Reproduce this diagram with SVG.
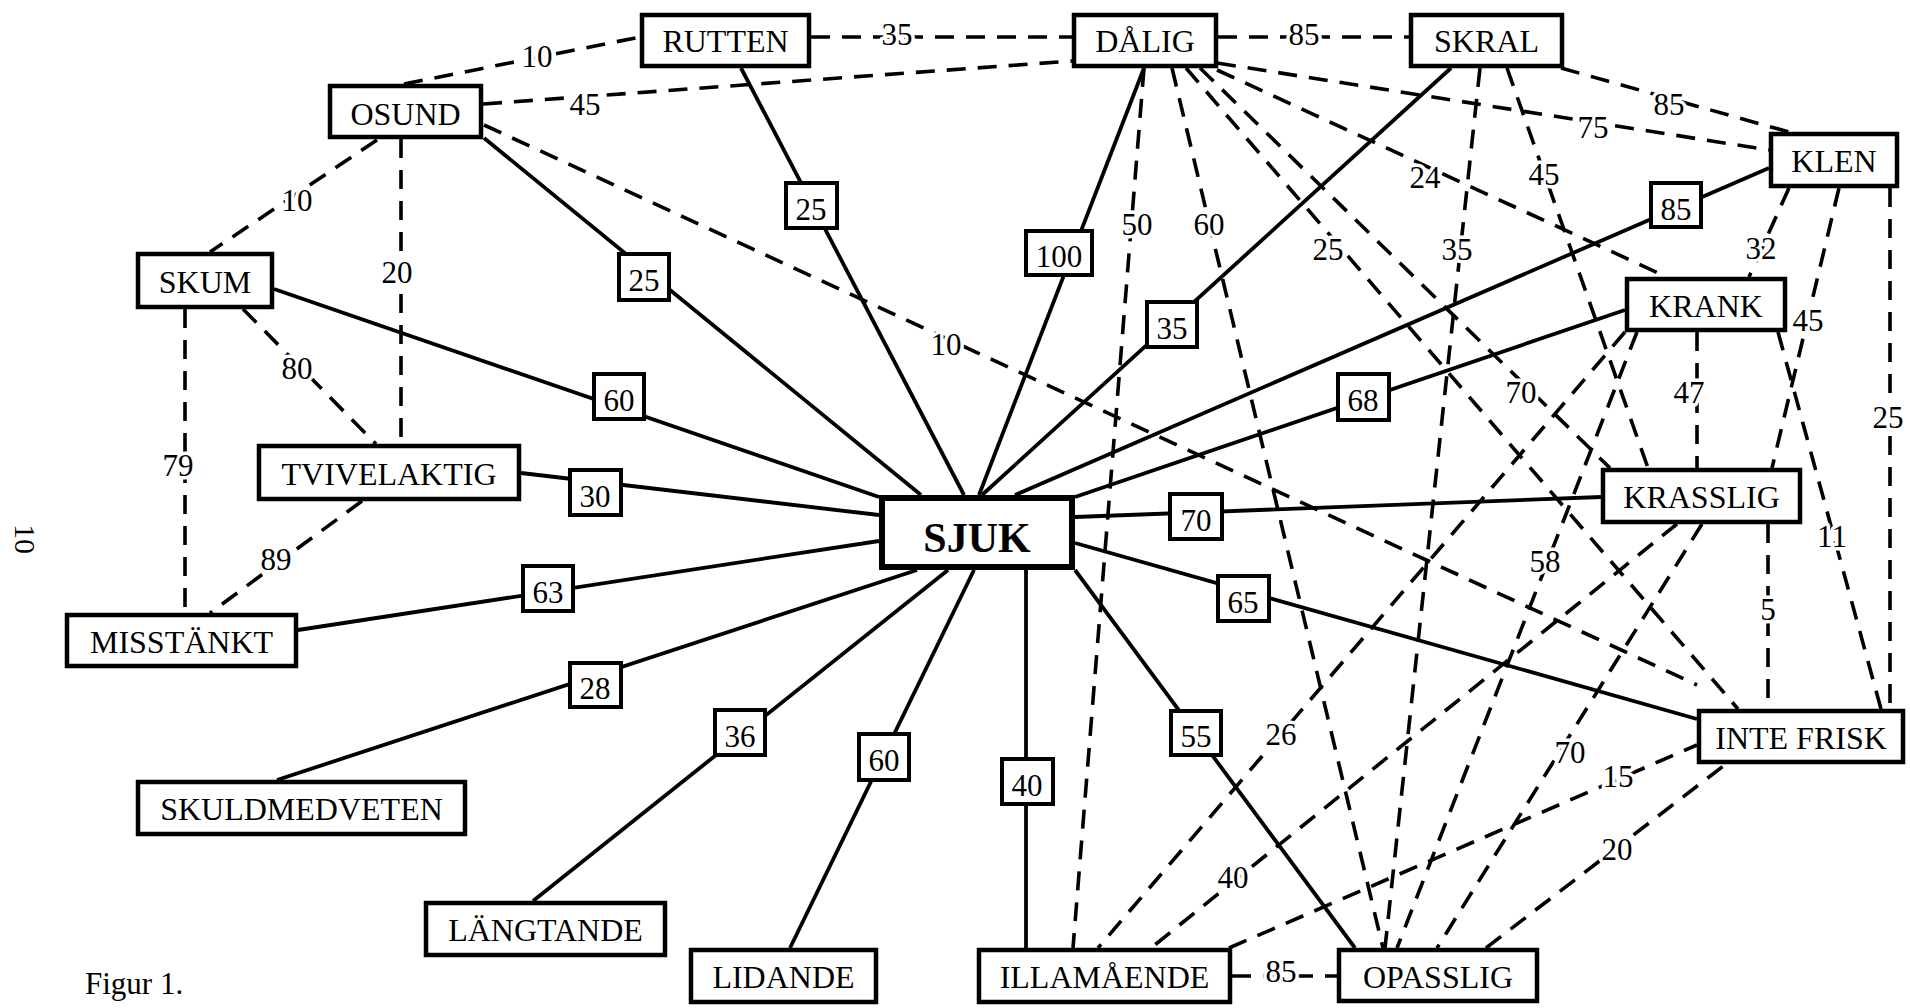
<svg xmlns="http://www.w3.org/2000/svg" width="1910" height="1008" viewBox="0 0 1910 1008">
<style>
text{font-family:"Liberation Serif","Times New Roman",serif;fill:#000}
.node rect{fill:#fff;stroke:#000;stroke-width:4.5}
.node text{font-size:32px;text-anchor:middle}
.s{stroke:#000;stroke-width:3.8;fill:none}
.d{stroke:#000;stroke-width:3.6;fill:none;stroke-dasharray:19 12}
.lb rect{fill:#fff;stroke:#000;stroke-width:4}
.lb text{font-size:31px;text-anchor:middle}
.dl{font-size:31px;text-anchor:middle;stroke:#fff;stroke-width:7;paint-order:stroke;stroke-linejoin:round}
</style>
<rect width="1910" height="1008" fill="#fff"/>
<g id="connectors">
<line class="d" x1="404" y1="84" x2="640" y2="37"/>
<line class="d" x1="811" y1="37" x2="1072" y2="37"/>
<line class="d" x1="1218" y1="37" x2="1409" y2="37"/>
<line class="d" x1="483" y1="104" x2="1072" y2="61"/>
<line class="d" x1="377" y1="140" x2="210" y2="252"/>
<line class="d" x1="401" y1="139" x2="401" y2="444"/>
<line class="d" x1="243" y1="309" x2="376" y2="444"/>
<line class="d" x1="185" y1="309" x2="185" y2="613"/>
<line class="d" x1="362" y1="501" x2="210" y2="613"/>
<line class="d" x1="484" y1="125" x2="1697" y2="685"/>
<line class="d" x1="1217" y1="63" x2="1769" y2="150"/>
<line class="d" x1="1561" y1="68" x2="1789" y2="132"/>
<line class="d" x1="1217" y1="70" x2="1667" y2="277"/>
<line class="d" x1="1507" y1="68" x2="1648" y2="468"/>
<line class="d" x1="1144" y1="68" x2="1073" y2="948"/>
<line class="d" x1="1172" y1="68" x2="1383" y2="948"/>
<line class="d" x1="1186" y1="68" x2="1738" y2="709"/>
<line class="d" x1="1200" y1="68" x2="1610" y2="468"/>
<line class="d" x1="1480" y1="68" x2="1385" y2="948"/>
<line class="d" x1="1789" y1="188" x2="1749" y2="277"/>
<line class="d" x1="1839" y1="188" x2="1772" y2="468"/>
<line class="d" x1="1890" y1="188" x2="1890" y2="709"/>
<line class="d" x1="1697" y1="332" x2="1697" y2="468"/>
<line class="d" x1="1778" y1="332" x2="1881" y2="709"/>
<line class="d" x1="1637" y1="332" x2="1397" y2="948"/>
<line class="d" x1="1625" y1="332" x2="1098" y2="948"/>
<line class="d" x1="1768" y1="524" x2="1768" y2="709"/>
<line class="d" x1="1677" y1="524" x2="1151" y2="948"/>
<line class="d" x1="1702" y1="524" x2="1437" y2="948"/>
<line class="d" x1="1229" y1="948" x2="1697" y2="745"/>
<line class="d" x1="1486" y1="948" x2="1726" y2="764"/>
<line class="d" x1="1232" y1="976" x2="1337" y2="976"/>
<line class="s" x1="484" y1="138" x2="921" y2="495"/>
<line class="s" x1="741" y1="68" x2="964" y2="495"/>
<line class="s" x1="1144" y1="68" x2="979" y2="495"/>
<line class="s" x1="1451" y1="68" x2="982" y2="495"/>
<line class="s" x1="1769" y1="168" x2="1015" y2="495"/>
<line class="s" x1="1625" y1="310" x2="1075" y2="497"/>
<line class="s" x1="1601" y1="497" x2="1075" y2="517"/>
<line class="s" x1="1697" y1="719" x2="1075" y2="543"/>
<line class="s" x1="1355" y1="948" x2="1075" y2="570"/>
<line class="s" x1="1026" y1="570" x2="1026" y2="948"/>
<line class="s" x1="790" y1="948" x2="974" y2="570"/>
<line class="s" x1="533" y1="901" x2="948" y2="570"/>
<line class="s" x1="277" y1="780" x2="917" y2="570"/>
<line class="s" x1="298" y1="630" x2="879" y2="541"/>
<line class="s" x1="521" y1="473" x2="879" y2="515"/>
<line class="s" x1="274" y1="289" x2="879" y2="497"/>
<text class="dl" x="537" y="67">10</text>
<text class="dl" x="897" y="45">35</text>
<text class="dl" x="1304" y="45">85</text>
<text class="dl" x="585" y="115">45</text>
<text class="dl" x="297" y="211">10</text>
<text class="dl" x="397" y="283">20</text>
<text class="dl" x="297" y="379">80</text>
<text class="dl" x="178" y="476">79</text>
<text class="dl" x="276" y="570">89</text>
<text class="dl" x="946" y="355">10</text>
<text class="dl" x="1137" y="235">50</text>
<text class="dl" x="1209" y="235">60</text>
<text class="dl" x="1328" y="260">25</text>
<text class="dl" x="1457" y="260">35</text>
<text class="dl" x="1425" y="188">24</text>
<text class="dl" x="1544" y="185">45</text>
<text class="dl" x="1593" y="138">75</text>
<text class="dl" x="1669" y="115">85</text>
<text class="dl" x="1761" y="259">32</text>
<text class="dl" x="1808" y="331">45</text>
<text class="dl" x="1689" y="403">47</text>
<text class="dl" x="1521" y="403">70</text>
<text class="dl" x="1888" y="428">25</text>
<text class="dl" x="1545" y="572">58</text>
<text class="dl" x="1832" y="547">11</text>
<text class="dl" x="1768" y="620">5</text>
<text class="dl" x="1281" y="745">26</text>
<text class="dl" x="1570" y="763">70</text>
<text class="dl" x="1618" y="787">15</text>
<text class="dl" x="1233" y="888">40</text>
<text class="dl" x="1617" y="860">20</text>
<text class="dl" x="1281" y="982">85</text>
<g class="lb">
<rect x="619" y="254" width="50" height="46"/><text x="644" y="291">25</text>
<rect x="786" y="183" width="51" height="45"/><text x="811" y="220">25</text>
<rect x="1026" y="231" width="66" height="44"/><text x="1059" y="267">100</text>
<rect x="1147" y="302" width="50" height="45"/><text x="1172" y="339">35</text>
<rect x="1651" y="183" width="50" height="44"/><text x="1676" y="220">85</text>
<rect x="1338" y="374" width="51" height="46"/><text x="1363" y="411">68</text>
<rect x="1170" y="494" width="52" height="45"/><text x="1196" y="531">70</text>
<rect x="1218" y="576" width="51" height="45"/><text x="1243" y="613">65</text>
<rect x="1171" y="711" width="50" height="44"/><text x="1196" y="747">55</text>
<rect x="1002" y="759" width="51" height="45"/><text x="1027" y="796">40</text>
<rect x="859" y="734" width="50" height="46"/><text x="884" y="771">60</text>
<rect x="715" y="710" width="50" height="45"/><text x="740" y="747">36</text>
<rect x="570" y="663" width="51" height="44"/><text x="595" y="699">28</text>
<rect x="523" y="566" width="50" height="45"/><text x="548" y="603">63</text>
<rect x="570" y="470" width="51" height="45"/><text x="595" y="507">30</text>
<rect x="594" y="374" width="50" height="45"/><text x="619" y="411">60</text>
</g>
</g>
<g id="n-rutten" class="node"><rect x="642" y="15" width="167" height="51"/><text x="725.5" y="52">RUTTEN</text></g>
<g id="n-dalig" class="node"><rect x="1074" y="15" width="142" height="51"/><text x="1145" y="52">DÅLIG</text></g>
<g id="n-skral" class="node"><rect x="1411" y="15" width="151" height="51"/><text x="1486.5" y="52">SKRAL</text></g>
<g id="n-osund" class="node"><rect x="330" y="86" width="151" height="51"/><text x="405.5" y="125">OSUND</text></g>
<g id="n-klen" class="node"><rect x="1771" y="134" width="126" height="52"/><text x="1834" y="172">KLEN</text></g>
<g id="n-skum" class="node"><rect x="138" y="254" width="134" height="53"/><text x="205" y="293">SKUM</text></g>
<g id="n-krank" class="node"><rect x="1627" y="279" width="158" height="51"/><text x="1706" y="317">KRANK</text></g>
<g id="n-tvivelaktig" class="node"><rect x="259" y="446" width="260" height="53"/><text x="389" y="485">TVIVELAKTIG</text></g>
<g id="n-krasslig" class="node"><rect x="1603" y="470" width="197" height="52"/><text x="1701.5" y="508">KRASSLIG</text></g>
<g id="n-misstankt" class="node"><rect x="67" y="615" width="229" height="51"/><text x="181.5" y="653">MISSTÄNKT</text></g>
<g id="n-sjuk"><rect x="882" y="498" width="190" height="69" fill="#fff" stroke="#000" stroke-width="6"/><text x="977" y="552" font-size="42" font-weight="bold" text-anchor="middle">SJUK</text></g>
<g id="n-intefrisk" class="node"><rect x="1699" y="711" width="204" height="51"/><text x="1801" y="749">INTE FRISK</text></g>
<g id="n-skuldmedveten" class="node"><rect x="138" y="782" width="327" height="52"/><text x="301.5" y="820">SKULDMEDVETEN</text></g>
<g id="n-langtande" class="node"><rect x="426" y="903" width="239" height="52"/><text x="545.5" y="941">LÄNGTANDE</text></g>
<g id="n-lidande" class="node"><rect x="691" y="950" width="185" height="52"/><text x="783.5" y="988">LIDANDE</text></g>
<g id="n-illamaende" class="node"><rect x="979" y="950" width="251" height="52"/><text x="1104.5" y="988">ILLAMÅENDE</text></g>
<g id="n-opasslig" class="node"><rect x="1339" y="950" width="198" height="51"/><text x="1438" y="988">OPASSLIG</text></g>
<text x="85" y="994" font-size="31">Figur 1.</text>
<text transform="translate(15,539) rotate(90)" font-size="30" text-anchor="middle">10</text>
</svg>
